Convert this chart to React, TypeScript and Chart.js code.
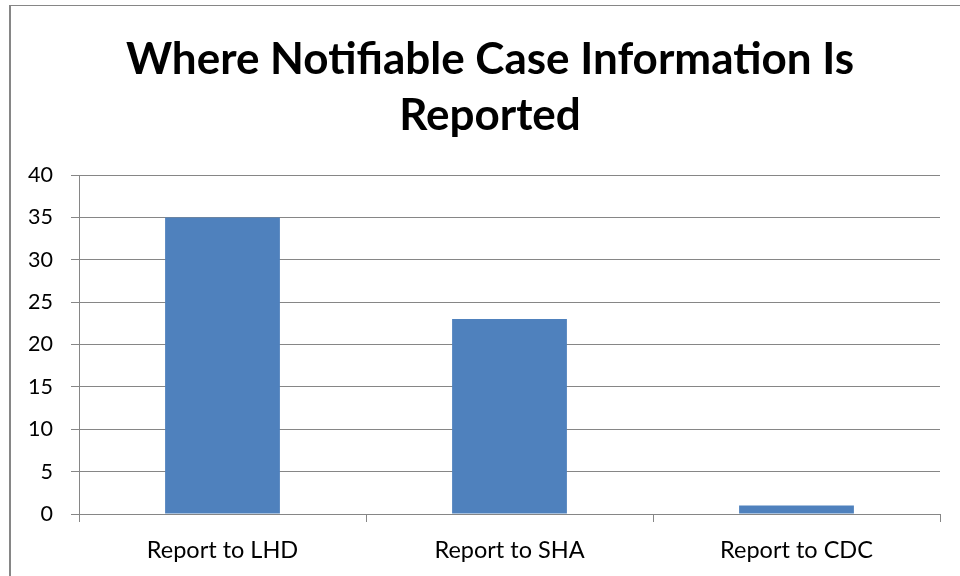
import React, { useEffect, useRef } from "react";
import { Chart, registerables } from "chart.js";

Chart.register(...registerables);

const categories = ["Report to LHD", "Report to SHA", "Report to CDC"];
const values = [35, 23, 1];
const titleLines = ["Where Notifiable Case Information Is", "Reported"];
const yMin = 0;
const yMax = 40;
const yStep = 5;

const shiftTitle = {
  id: "shiftTitle",
  afterLayout(chart: any) {
    const t = chart.titleBlock;
    if (t) {
      t.left += 20;
      t.right += 20;
    }
  },
};

export default function App() {
  const ref = useRef<HTMLCanvasElement | null>(null);

  useEffect(() => {
    document.body.style.margin = "0";
    document.body.style.overflow = "hidden";
    const canvas = ref.current;
    if (!canvas) return;
    const chart = new Chart(canvas, {
      type: "bar",
      data: {
        labels: categories,
        datasets: [
          {
            data: values,
            backgroundColor: "#4F81BD",
            borderWidth: 0,
            barPercentage: 0.4,
            categoryPercentage: 1,
          },
        ],
      },
      plugins: [shiftTitle],
      options: {
        animation: false,
        responsive: false,
        maintainAspectRatio: false,
        layout: { padding: { left: 0, right: 20, top: 0, bottom: 0 } },
        plugins: {
          legend: { display: false },
          tooltip: { enabled: false },
          title: {
            display: true,
            text: titleLines,
            color: "#000",
            font: { family: "Lato", size: 44, weight: "bold", lineHeight: 56 / 44 },
            padding: { top: 32, bottom: 31 },
          },
        },
        scales: {
          x: {
            grid: {
              display: true,
              drawOnChartArea: false,
              drawTicks: true,
              tickLength: 8,
              color: "#868686",
              offset: true,
            },
            border: { display: true, color: "#868686", width: 1 },
            ticks: {
              color: "#000",
              font: { family: "Lato", size: 23.5 },
              padding: 14,
            },
            afterFit: (scale: any) => {
              scale.height = 62;
            },
          },
          y: {
            min: yMin,
            max: yMax,
            ticks: {
              stepSize: yStep,
              color: "#000",
              font: { family: "Lato", size: 21.5 },
              padding: 18,
            },
            grid: {
              color: "#868686",
              lineWidth: 1,
              tickLength: 8,
              drawTicks: true,
            },
            border: { display: true, color: "#868686", width: 1 },
            afterFit: (scale: any) => {
              scale.width = 79;
            },
          },
        },
      },
    });
    return () => chart.destroy();
  }, []);

  return (
    <div style={{ position: "relative", width: 960, height: 576, overflow: "hidden", background: "#fff" }}>
      <canvas ref={ref} width={960} height={576} style={{ position: "absolute", left: 0, top: 0 }} />
      <div
        style={{
          position: "absolute",
          left: 9,
          top: 5,
          width: 1200,
          height: 1200,
          borderLeft: "2px solid #868686",
          borderTop: "1px solid #868686",
          pointerEvents: "none",
        }}
      />
    </div>
  );
}
